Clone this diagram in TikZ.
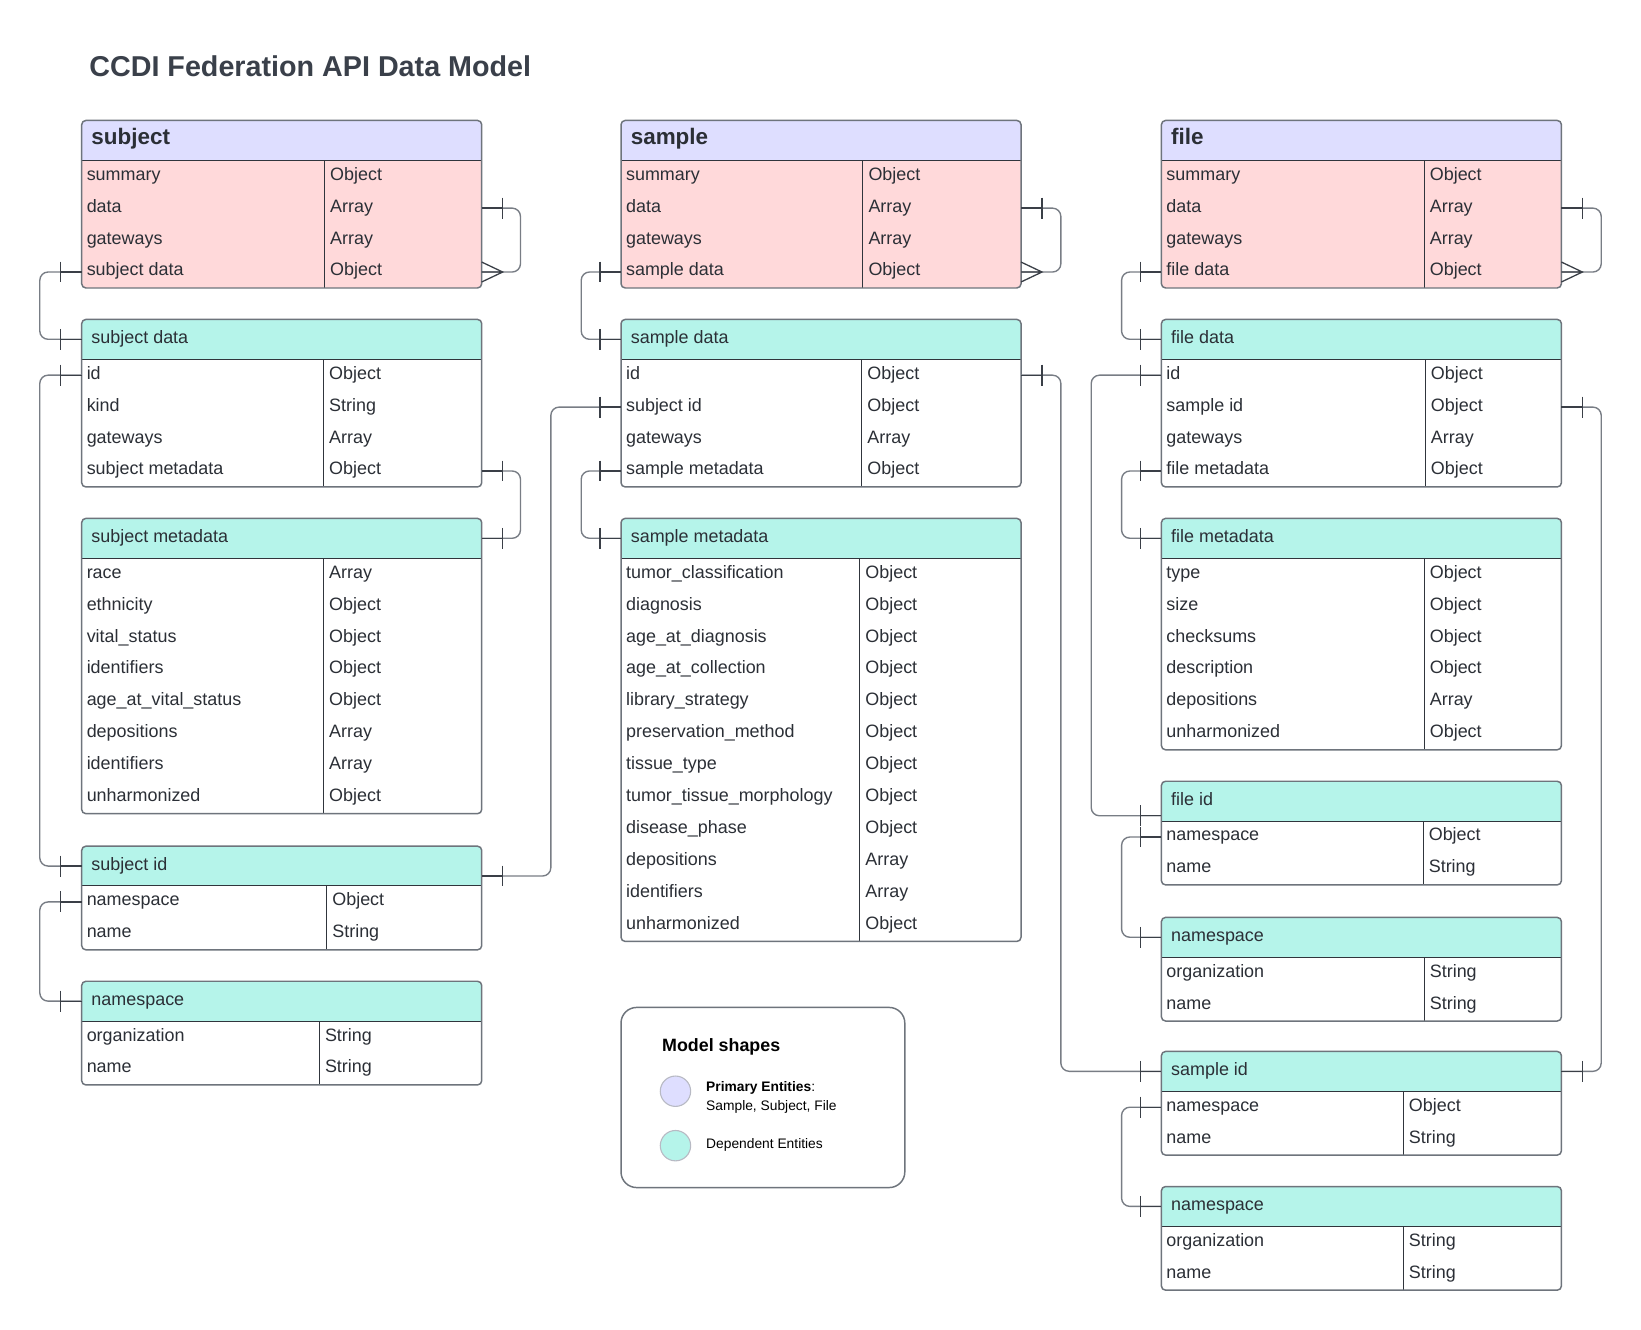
\documentclass[tikz,border=0pt]{standalone}
\usepackage{fontspec}
\setmainfont{Liberation Sans}
\usetikzlibrary{calc,fit}
\definecolor{hdpurple}{HTML}{DEDEFF}
\definecolor{pinkb}{HTML}{FFD9DA}
\definecolor{tealh}{HTML}{B5F4EA}
\definecolor{outl}{HTML}{6E747C}
\definecolor{innl}{HTML}{30353C}
\definecolor{txt}{HTML}{2B2F36}
\definecolor{ttl}{HTML}{3A404A}
\definecolor{lineg}{HTML}{787D85}
\definecolor{lined}{HTML}{3A3F47}
\definecolor{circo}{HTML}{B8BAC4}

\tikzset{
  prim head/.style={fill=hdpurple},
  prim body/.style={fill=pinkb},
  dep head/.style={fill=tealh},
  dep body/.style={fill=white},
  prim title/.style={font=\fontsize{12.2}{14}\selectfont\bfseries, text=txt, inner sep=0},
  dep title/.style={font=\fontsize{9.75}{11}\selectfont, text=txt, inner sep=0},
  cell/.style={font=\fontsize{9.75}{11}\selectfont, text=txt, inner sep=0},
  outline/.style={draw=outl, line width=0.8pt},
  inner line/.style={draw=innl, line width=0.55pt},
  conn/.style={draw=lineg, line width=0.75pt, rounded corners=4.5pt},
  tick/.style={draw=lined, line width=0.7pt},
  legendbox/.style={draw=outl, line width=0.8pt, rounded corners=8.5pt},
}

% #1 name #2 x1 #3 xdiv #4 ytop #5 kind #6 nrows #7 title #8 rows
\newcommand\etab[8]{%
  \pgfmathsetmacro\xR{#2+382}%
  \pgfmathsetmacro\yH{#4+38}%
  \pgfmathsetmacro\yB{#4+38+30.5*#6}%
  \pgfmathsetmacro\yHc{#4+19}%
  \begin{scope}
    \clip[rounded corners=2.3pt] (#2,#4) rectangle (\xR,\yB);
    \fill[#5 body] (#2,\yH) rectangle (\xR,\yB);
    \fill[#5 head] (#2,#4) rectangle (\xR,\yH);
  \end{scope}
  \draw[inner line] (#2,\yH) -- (\xR,\yH);
  \draw[inner line] (#3,\yH) -- (#3,\yB);
  \draw[outline, rounded corners=2.3pt] (#2,#4) rectangle (\xR,\yB);
  \coordinate (#1-nw) at (#2,#4);
  \coordinate (#1-se) at (\xR,\yB);
  \node[fit=(#1-nw)(#1-se), inner sep=0, outer sep=0] (#1) {};
  \coordinate (#1-hw) at (#2,\yHc);
  \coordinate (#1-he) at (\xR,\yHc);
  \node[#5 title, anchor=base west] (#1-t) at (#2+9,\yHc+4) {#7};
  \foreach \na/\ty [count=\i] in {#8} {
    \pgfmathsetmacro\yr{\yH+30.5*\i-15.25}
    \coordinate (#1-\i-w) at (#2,\yr);
    \coordinate (#1-\i-e) at (\xR,\yr);
    \node[cell, anchor=base west] (#1-\i-n) at (#2+4.5,\yr+3.8) {\na};
    \node[cell, anchor=base west] (#1-\i-t) at (#3+5,\yr+3.8) {\ty};
  }
}
\newcommand\tickL[1]{\draw[tick] (#1) -- ++(-20,0) ++(0,-10) -- ++(0,20);}
\newcommand\tickR[1]{\draw[tick] (#1) -- ++(20,0) ++(0,-10) -- ++(0,20);}
\newcommand\crowR[1]{\draw[tick] ($(#1)+(0,-9.5)$) -- ($(#1)+(20,0)$) -- ($(#1)+(0,9.5)$) (#1) -- ($(#1)+(20,0)$);}

\begin{document}
\begin{tikzpicture}[x=0.02cm,y=-0.02cm]
\fill[white] (0,0) rectangle (1567,1270);
\useasboundingbox (0,0) rectangle (1567,1270);

\node[anchor=base west, inner sep=0, font=\fontsize{15.6}{18}\selectfont\bfseries, text=ttl] (title) at (85,72.8) {CCDI Federation API Data Model};

% ---------------- column 1: subject
\etab{subj}{78}{310}{115}{prim}{4}{subject}{summary/Object, data/Array, gateways/Array, subject data/Object}
\etab{subjd}{78}{309}{305}{dep}{4}{subject data}{id/Object, kind/String, gateways/Array, subject metadata/Object}
\etab{subjmd}{78}{309}{495}{dep}{8}{subject metadata}{race/Array, ethnicity/Object, vital\_status/Object, identifiers/Object, age\_at\_vital\_status/Object, depositions/Array, identifiers/Array, unharmonized/Object}
\etab{subjid}{78}{312}{808}{dep}{2}{subject id}{namespace/Object, name/String}
\etab{nsa}{78}{305}{937}{dep}{2}{namespace}{organization/String, name/String}

% ---------------- column 2: sample
\etab{smp}{593}{824}{115}{prim}{4}{sample}{summary/Object, data/Array, gateways/Array, sample data/Object}
\etab{smpd}{593}{823}{305}{dep}{4}{sample data}{id/Object, subject id/Object, gateways/Array, sample metadata/Object}
\etab{smpmd}{593}{821}{495}{dep}{12}{sample metadata}{tumor\_classification/Object, diagnosis/Object, age\_at\_diagnosis/Object, age\_at\_collection/Object, library\_strategy/Object, preservation\_method/Object, tissue\_type/Object, tumor\_tissue\_morphology/Object, disease\_phase/Object, depositions/Array, identifiers/Array, unharmonized/Object}

% ---------------- column 3: file
\etab{fil}{1109}{1360}{115}{prim}{4}{file}{summary/Object, data/Array, gateways/Array, file data/Object}
\etab{fild}{1109}{1361}{305}{dep}{4}{file data}{id/Object, sample id/Object, gateways/Array, file metadata/Object}
\etab{filmd}{1109}{1360}{495}{dep}{6}{file metadata}{type/Object, size/Object, checksums/Object, description/Object, depositions/Array, unharmonized/Object}
\etab{fid}{1109}{1359}{746}{dep}{2}{file id}{namespace/Object, name/String}
\etab{nsb}{1109}{1360}{876}{dep}{2}{namespace}{organization/String, name/String}
\etab{sid}{1109}{1340}{1004}{dep}{2}{sample id}{namespace/Object, name/String}
\etab{nsc}{1109}{1340}{1133}{dep}{2}{namespace}{organization/String, name/String}

% extra anchor points low in headers
\coordinate (subjid-lo) at ($(subjid-he)+(0,9.5)$);
\coordinate (fid-lo) at ($(fid-hw)+(0,14)$);

% ---------------- connectors
\draw[conn] (subj-4-w) -- ++(-40,0) |- (subjd-hw);
\draw[conn] (subj-2-e) -- ++(37,0) |- (subj-4-e);
\draw[conn] (subjd-1-w) -- ++(-40,0) |- (subjid-hw);
\draw[conn] (subjd-4-e) -- ++(37,0) |- (subjmd-he);
\draw[conn] (subjid-1-w) -- ++(-40,0) |- (nsa-hw);
\draw[conn] (subjid-lo) -- ++(66,0) |- (smpd-2-w);

\draw[conn] (smp-4-w) -- ++(-38,0) |- (smpd-hw);
\draw[conn] (smp-2-e) -- ++(38,0) |- (smp-4-e);
\draw[conn] (smpd-4-w) -- ++(-38,0) |- (smpmd-hw);
\draw[conn] (smpd-1-e) -- ++(38,0) |- (sid-hw);

\draw[conn] (fil-4-w) -- ++(-38,0) |- (fild-hw);
\draw[conn] (fil-2-e) -- ++(38,0) |- (fil-4-e);
\draw[conn] (fild-1-w) -- ++(-67,0) |- (fid-lo);
\draw[conn] (fild-4-w) -- ++(-38,0) |- (filmd-hw);
\draw[conn] (fid-1-w) -- ++(-38,0) |- (nsb-hw);
\draw[conn] (fild-2-e) -- ++(38,0) |- (sid-he);
\draw[conn] (sid-1-w) -- ++(-38,0) |- (nsc-hw);

% ---------------- connector ends
\tickL{subj-4-w} \tickL{subjd-hw}
\tickR{subj-2-e} \crowR{subj-4-e}
\tickL{subjd-1-w} \tickL{subjid-hw}
\tickR{subjd-4-e} \tickR{subjmd-he}
\tickL{subjid-1-w} \tickL{nsa-hw}
\tickR{subjid-lo} \tickL{smpd-2-w}

\tickL{smp-4-w} \tickL{smpd-hw}
\tickR{smp-2-e} \crowR{smp-4-e}
\tickL{smpd-4-w} \tickL{smpmd-hw}
\tickR{smpd-1-e} \tickL{sid-hw}

\tickL{fil-4-w} \tickL{fild-hw}
\tickR{fil-2-e} \crowR{fil-4-e}
\tickL{fild-1-w} \tickL{fid-lo}
\tickL{fild-4-w} \tickL{filmd-hw}
\tickL{fid-1-w} \tickL{nsb-hw}
\tickR{fild-2-e} \tickR{sid-he}
\tickL{sid-1-w} \tickL{nsc-hw}

% ---------------- legend
\draw[legendbox] (593,962) rectangle (864,1134);
\node (legend) [fit={(593,962)(864,1134)}, inner sep=0] {};
\node[anchor=base west, inner sep=0, font=\fontsize{9.7}{11}\selectfont\bfseries, text=black] (lgtitle) at (632,1004) {Model shapes};
\filldraw[fill=hdpurple, draw=circo, line width=0.6pt] (645,1042) circle[radius=14.5];
\filldraw[fill=tealh, draw=circo, line width=0.6pt] (645,1094) circle[radius=14.5];
\node[anchor=base west, inner sep=0, font=\fontsize{7.5}{9}\selectfont, text=black] (lgp) at (674,1042.7) {\textbf{Primary Entities}:};
\node[anchor=base west, inner sep=0, font=\fontsize{7.5}{9}\selectfont, text=black] (lgp2) at (674,1060.7) {Sample, Subject, File};
\node[anchor=base west, inner sep=0, font=\fontsize{7.5}{9}\selectfont, text=black] (lgd) at (674,1096.7) {Dependent Entities};
\end{tikzpicture}
\end{document}
